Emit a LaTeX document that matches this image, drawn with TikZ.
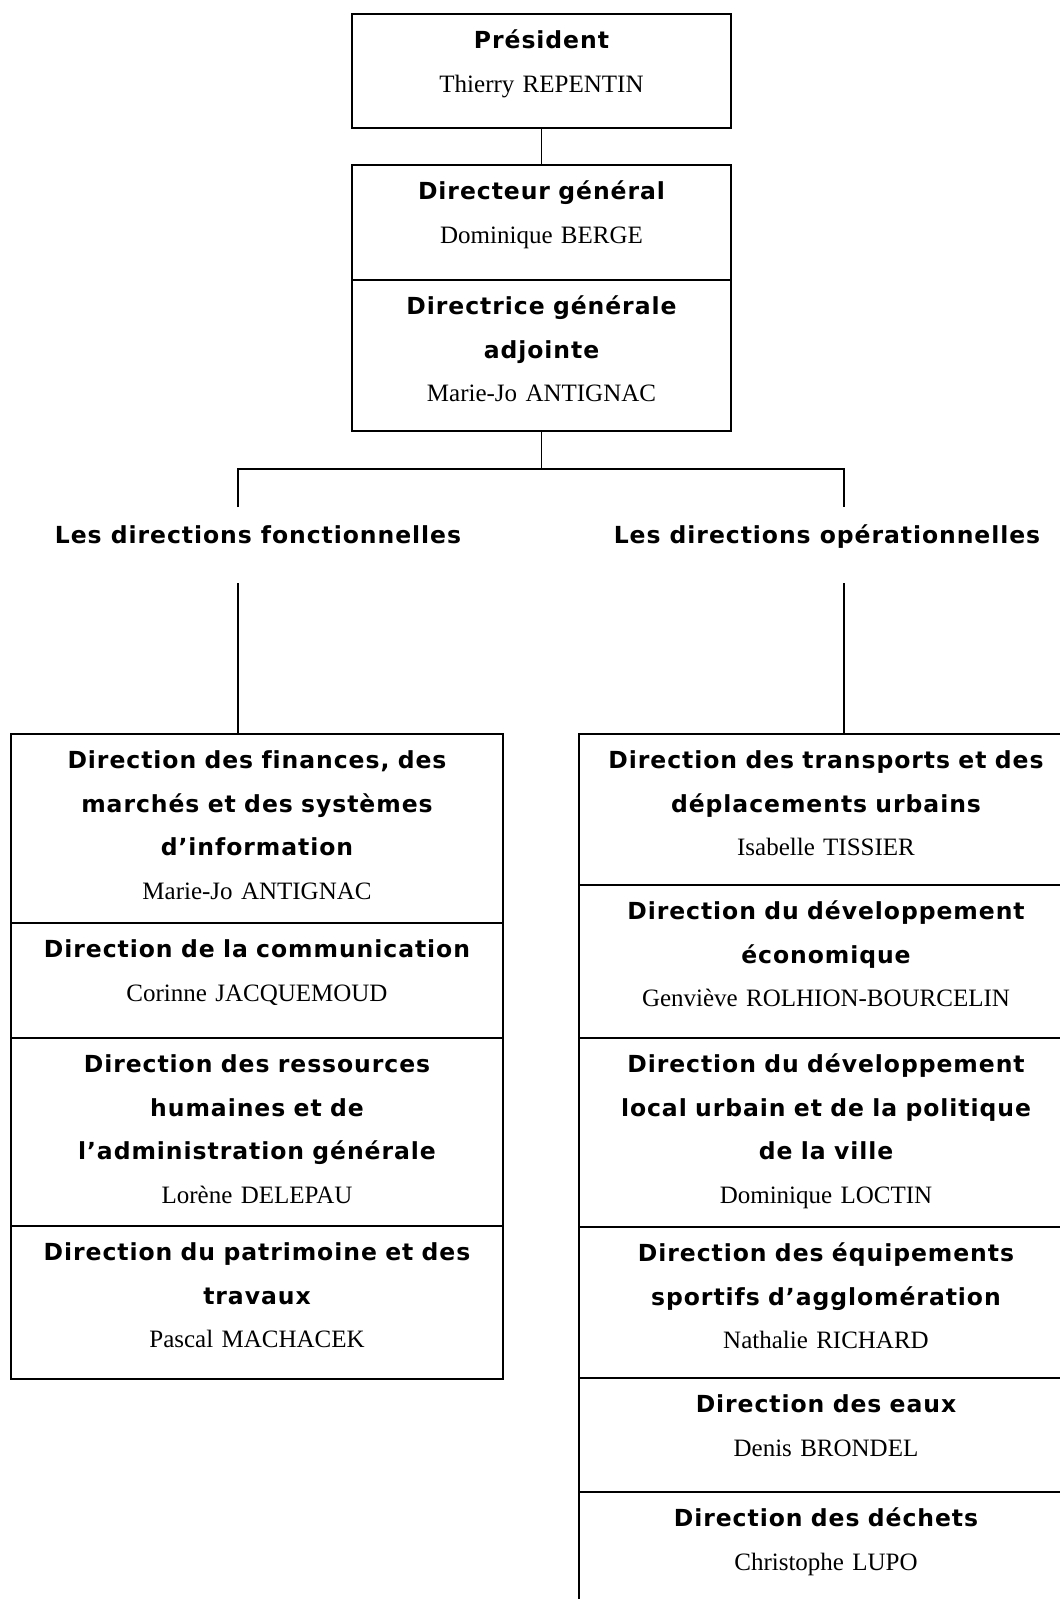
\documentclass[tikz,border=0pt]{standalone}
\usepackage{fontspec}
\setmainfont{Liberation Serif}
\newfontfamily\orgsans[LetterSpace=4, Ligatures=NoCommon]{DejaVu Sans}
\usetikzlibrary{positioning}

% bold sans heading inside a cell
\newcommand{\post}[1]{{\orgsans\bfseries\fontsize{23.5}{43.7}\selectfont #1}}

\begin{document}
\begin{tikzpicture}[x=1pt, y=1pt]

% --- Styles ---
\tikzset{
    orgcell/.style={draw=black, line width=1.3pt, align=center, inner sep=0pt, outer sep=0pt,
        text width=#1, text height=34.5pt, font=\fontsize{25}{43.7}\selectfont},
    branchLabel/.style={anchor=base, font=\orgsans\bfseries\fontsize{23.5}{26}\selectfont},
    orgLine/.style={black, line width=1.3pt},
}

\useasboundingbox (0,0) rectangle (1060,-1599);
\clip (0,0) rectangle (1060,-1599);

% --- Direction generale ---
\node[orgcell=379pt, text depth=79.5pt, anchor=north] (pres) at (541.5,-14) {\post{Président}\\Thierry REPENTIN};
\node[orgcell=379pt, text depth=80.5pt, anchor=north] (dg) at (541.5,-165) {\post{Directeur général}\\Dominique BERGE};
\node[orgcell=379pt, text depth=116.5pt, below=0pt of dg] (dga) {\post{Directrice générale}\\\post{adjointe}\\Marie-Jo ANTIGNAC};

% --- Branch labels ---
\node[branchLabel] (fonct) at (258,-543) {Les directions fonctionnelles};
\node[branchLabel] (oper) at (827,-543) {Les directions opérationnelles};

% --- Directions fonctionnelles ---
\node[orgcell=492pt, text depth=154.5pt, anchor=north] (fin) at (257,-734) {\post{Direction des finances, des}\\\post{marchés et des systèmes}\\\post{d’information}\\Marie-Jo ANTIGNAC};
\node[orgcell=492pt, text depth=80.5pt, below=0pt of fin] (com) {\post{Direction de la communication}\\Corinne JACQUEMOUD};
\node[orgcell=492pt, text depth=153.5pt, below=0pt of com] (rh) {\post{Direction des ressources}\\\post{humaines et de}\\\post{l’administration générale}\\Lorène DELEPAU};
\node[orgcell=492pt, text depth=118.5pt, below=0pt of rh] (pat) {\post{Direction du patrimoine et des}\\\post{travaux}\\Pascal MACHACEK};

% --- Directions operationnelles ---
\node[orgcell=494pt, text depth=116.5pt, anchor=north] (trans) at (826,-734) {\post{Direction des transports et des}\\\post{déplacements urbains}\\Isabelle TISSIER};
\node[orgcell=494pt, text depth=118.5pt, below=0pt of trans] (eco) {\post{Direction du développement}\\\post{économique}\\Genviève ROLHION-BOURCELIN};
\node[orgcell=494pt, text depth=154.5pt, below=0pt of eco] (dlu) {\post{Direction du développement}\\\post{local urbain et de la politique}\\\post{de la ville}\\Dominique LOCTIN};
\node[orgcell=494pt, text depth=116.5pt, below=0pt of dlu] (sport) {\post{Direction des équipements}\\\post{sportifs d’agglomération}\\Nathalie RICHARD};
\node[orgcell=494pt, text depth=79.5pt, below=0pt of sport] (eaux) {\post{Direction des eaux}\\Denis BRONDEL};
\node[orgcell=494pt, text depth=79.5pt, below=0pt of eaux] (dechets) {\post{Direction des déchets}\\Christophe LUPO};

% --- Connectors ---
\coordinate (split) at (541.5,-469);
\coordinate (fonctTop) at (238,-507);
\coordinate (operTop) at (844,-507);
\coordinate (fonctBot) at (238,-583);
\coordinate (operBot) at (844,-583);

\draw[orgLine] (pres) -- (dg);
\draw[orgLine] (dga.south) -- (split);
\draw[orgLine] (fonctTop) |- (split) -| (operTop);
\draw[orgLine] (fonctBot) -- (fonctBot |- fin.north);
\draw[orgLine] (operBot) -- (operBot |- trans.north);

\end{tikzpicture}
\end{document}
